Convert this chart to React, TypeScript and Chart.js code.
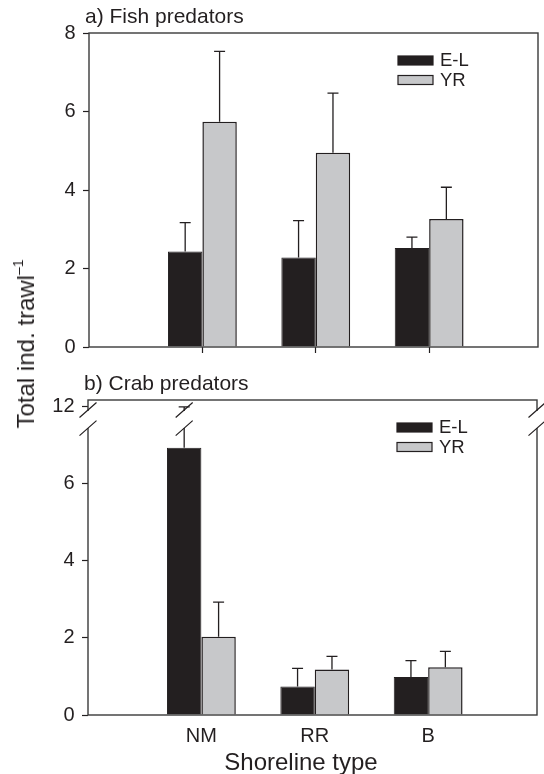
import React, { useEffect, useRef } from 'react';
import { Chart, registerables, LinearScale } from 'chart.js';

Chart.register(...registerables);

// ---- data ----
const shorelineTypes = ['NM', 'RR', 'B'];
const seriesNames = ['E-L', 'YR'];
const panelTitles = ['a) Fish predators', 'b) Crab predators'];

// a) Fish predators: mean and upper standard error
const fishEL = [2.43, 2.28, 2.52];
const fishELErr = [0.74, 0.94, 0.28];
const fishYR = [5.74, 4.95, 3.26];
const fishYRErr = [1.79, 1.52, 0.81];

// b) Crab predators: mean and upper standard error
const crabEL = [6.94, 0.74, 0.99];
const crabELErr = [5.06, 0.47, 0.42];
const crabYR = [2.03, 1.18, 1.24];
const crabYRErr = [0.9, 0.34, 0.41];

const fishTicks = [0, 2, 4, 6, 8];
const crabTicks = [0, 2, 4, 6, 12];

// broken y axis of the crab panel
const BREAK_LOW = 7.45;
const BREAK_HIGH = 11.92;
const BREAK_GAP = 0.47;
const CRAB_TOP = 12.18;

// ---- styles ----
const FONT = '"Liberation Sans", Arial, Helvetica, sans-serif';
const INK = '#231f20';
const FRAME = '#3a3a3a';
const EL_FILL = '#231f20';
const YR_FILL = '#c7c8ca';

function toAxis(v: number): number {
  if (v <= BREAK_LOW) return v;
  if (v >= BREAK_HIGH) return BREAK_LOW + BREAK_GAP + (v - BREAK_HIGH);
  return BREAK_LOW + ((v - BREAK_LOW) / (BREAK_HIGH - BREAK_LOW)) * BREAK_GAP;
}

function fromAxis(u: number): number {
  if (u <= BREAK_LOW) return u;
  if (u >= BREAK_LOW + BREAK_GAP) return u - BREAK_LOW - BREAK_GAP + BREAK_HIGH;
  return BREAK_LOW + ((u - BREAK_LOW) / BREAK_GAP) * (BREAK_HIGH - BREAK_LOW);
}

// Linear scale whose range between BREAK_LOW and BREAK_HIGH is squeezed
class BrokenLinearScale extends LinearScale {
  static id = 'brokenLinear';
  static defaults = LinearScale.defaults;
  getPixelForValue(value: any) {
    if (value === null || value === undefined || isNaN(value)) return NaN;
    return super.getPixelForValue(toAxis(value));
  }
  getValueForPixel(pixel: number) {
    return fromAxis(super.getValueForPixel(pixel));
  }
}
Chart.register(BrokenLinearScale as any);

// frame, error bars, axis breaks, legend and panel title
const panelPlugin = {
  id: 'panel',
  afterDatasetsDraw(chart: any, _args: any, opts: any) {
    const { ctx, chartArea: a } = chart;
    const yScale = chart.scales.y;
    ctx.save();

    // frame
    ctx.strokeStyle = FRAME;
    ctx.lineWidth = 1.4;
    ctx.strokeRect(a.left, a.top, a.right - a.left, a.bottom - a.top);

    // upper error bars
    const brokenXs: number[] = [a.left, a.right];
    ctx.strokeStyle = INK;
    ctx.lineWidth = 1.3;
    chart.data.datasets.forEach((ds: any, d: number) => {
      const meta = chart.getDatasetMeta(d);
      meta.data.forEach((bar: any, i: number) => {
        const top = ds.data[i].y + ds.errors[i];
        const yTop = yScale.getPixelForValue(top);
        ctx.beginPath();
        ctx.moveTo(bar.x, bar.y);
        ctx.lineTo(bar.x, yTop);
        ctx.moveTo(bar.x - 5.5, yTop);
        ctx.lineTo(bar.x + 5.5, yTop);
        ctx.stroke();
        if (opts.broken && top > BREAK_LOW) brokenXs.push(bar.x);
      });
    });

    // break marks
    if (opts.broken) {
      const yLo = yScale.getPixelForValue(BREAK_LOW);
      const yHi = yScale.getPixelForValue(BREAK_HIGH);
      brokenXs.forEach((x) => {
        ctx.clearRect(x - 3, yHi + 0.5, 6, yLo - yHi - 1);
        ctx.strokeStyle = INK;
        ctx.lineWidth = 1.2;
        ctx.beginPath();
        [yHi, yLo].forEach((y) => {
          ctx.moveTo(x - 8.5, y + 7.5);
          ctx.lineTo(x + 8.5, y - 7.5);
        });
        ctx.stroke();
      });
    }

    // legend
    const lx = a.right - 140;
    const ly = a.top + 23;
    chart.data.datasets.forEach((ds: any, i: number) => {
      const y = ly + i * 19.5;
      ctx.fillStyle = ds.backgroundColor;
      ctx.fillRect(lx, y, 35, 9);
      ctx.strokeStyle = INK;
      ctx.lineWidth = 1.2;
      ctx.strokeRect(lx, y, 35, 9);
      ctx.fillStyle = INK;
      ctx.font = `18.5px ${FONT}`;
      ctx.textAlign = 'left';
      ctx.textBaseline = 'middle';
      ctx.fillText(ds.label, lx + 42, y + 5);
    });

    // panel title
    ctx.fillStyle = INK;
    ctx.font = `21px ${FONT}`;
    ctx.textAlign = 'left';
    ctx.textBaseline = 'middle';
    ctx.fillText(opts.title, a.left - 4, a.top - 16);

    ctx.restore();
  },
};

function barDatasets(el: number[], elErr: number[], yr: number[], yrErr: number[]) {
  return [
    {
      label: seriesNames[0],
      data: el.map((v, i) => ({ x: i + 1, y: v })),
      errors: elErr,
      backgroundColor: EL_FILL,
      borderColor: INK,
      borderWidth: 1,
    },
    {
      label: seriesNames[1],
      data: yr.map((v, i) => ({ x: i + 1, y: v })),
      errors: yrErr,
      backgroundColor: YR_FILL,
      borderColor: INK,
      borderWidth: 1.5,
    },
  ];
}

function makeConfig(opts: {
  datasets: any[];
  title: string;
  broken: boolean;
  yType: string;
  yMax: number;
  yTicks: number[];
  yWidth: number;
  xHeight: number;
  padding: any;
  showLabels: boolean;
}): any {
  return {
    type: 'bar',
    data: { datasets: opts.datasets },
    plugins: [panelPlugin],
    options: {
      responsive: false,
      animation: false,
      events: [],
      layout: { padding: opts.padding },
      datasets: { bar: { categoryPercentage: 0.607, barPercentage: 1 } },
      plugins: {
        legend: { display: false },
        tooltip: { enabled: false },
        panel: { title: opts.title, broken: opts.broken },
      },
      scales: {
        x: {
          type: 'linear',
          min: 0,
          max: 3.96,
          bounds: 'data',
          offset: false,
          afterBuildTicks: (s: any) => {
            s.ticks = shorelineTypes.map((_, i) => ({ value: i + 1 }));
          },
          afterFit: (s: any) => {
            s.height = opts.xHeight;
          },
          ticks: {
            display: opts.showLabels,
            autoSkip: false,
            maxRotation: 0,
            padding: 9,
            color: INK,
            font: { family: FONT, size: 20 },
            callback: (v: number) => shorelineTypes[v - 1] ?? '',
          },
          grid: {
            offset: false,
            drawOnChartArea: false,
            drawTicks: !opts.showLabels,
            tickLength: 6,
            tickColor: INK,
            tickWidth: 1.2,
          },
          border: { display: false },
        },
        y: {
          type: opts.yType,
          min: 0,
          max: opts.yMax,
          bounds: 'data',
          afterBuildTicks: (s: any) => {
            s.ticks = opts.yTicks.map((v) => ({ value: v }));
          },
          afterFit: (s: any) => {
            s.width = opts.yWidth;
          },
          ticks: {
            padding: 7.5,
            color: INK,
            font: { family: FONT, size: 20 },
            callback: (v: number) => String(v),
          },
          grid: {
            drawOnChartArea: false,
            tickLength: 6,
            tickColor: INK,
            tickWidth: 1.2,
          },
          border: { display: false },
        },
      },
    },
  };
}

export default function App() {
  const fishRef = useRef<HTMLCanvasElement>(null);
  const crabRef = useRef<HTMLCanvasElement>(null);

  useEffect(() => {
    const fish = new Chart(
      fishRef.current as HTMLCanvasElement,
      makeConfig({
        datasets: barDatasets(fishEL, fishELErr, fishYR, fishYRErr),
        title: panelTitles[0],
        broken: false,
        yType: 'linear',
        yMax: 8,
        yTicks: fishTicks,
        yWidth: 89,
        xHeight: 25,
        padding: { top: 33, right: 6, left: 0, bottom: 0 },
        showLabels: false,
      })
    );
    const crab = new Chart(
      crabRef.current as HTMLCanvasElement,
      makeConfig({
        datasets: barDatasets(crabEL, crabELErr, crabYR, crabYRErr),
        title: panelTitles[1],
        broken: true,
        yType: 'brokenLinear',
        yMax: toAxis(CRAB_TOP),
        yTicks: crabTicks,
        yWidth: 88,
        xHeight: 59,
        padding: { top: 28, right: 7, left: 0, bottom: 0 },
        showLabels: true,
      })
    );
    return () => {
      fish.destroy();
      crab.destroy();
    };
  }, []);

  return (
    <div
      style={{
        position: 'absolute',
        left: 0,
        top: 0,
        width: 544,
        height: 774,
        background: '#fff',
        fontFamily: FONT,
        color: INK,
        overflow: 'hidden',
      }}
    >
      <canvas
        ref={fishRef}
        width={544}
        height={372}
        style={{ position: 'absolute', left: 0, top: 0, width: 544, height: 372 }}
      />
      <canvas
        ref={crabRef}
        width={544}
        height={402}
        style={{ position: 'absolute', left: 0, top: 372, width: 544, height: 402 }}
      />
      <div
        style={{
          position: 'absolute',
          left: 26,
          top: 344,
          transform: 'translate(-50%, -50%) rotate(-90deg)',
          whiteSpace: 'nowrap',
          fontSize: 24,
          lineHeight: 1,
        }}
      >
        Total ind. trawl
        <span style={{ fontSize: '0.58em', position: 'relative', top: '-0.8em' }}>–1</span>
      </div>
      <div
        style={{
          position: 'absolute',
          left: 301,
          top: 762,
          transform: 'translate(-50%, -50%)',
          whiteSpace: 'nowrap',
          fontSize: 24,
          lineHeight: 1,
        }}
      >
        Shoreline type
      </div>
    </div>
  );
}
